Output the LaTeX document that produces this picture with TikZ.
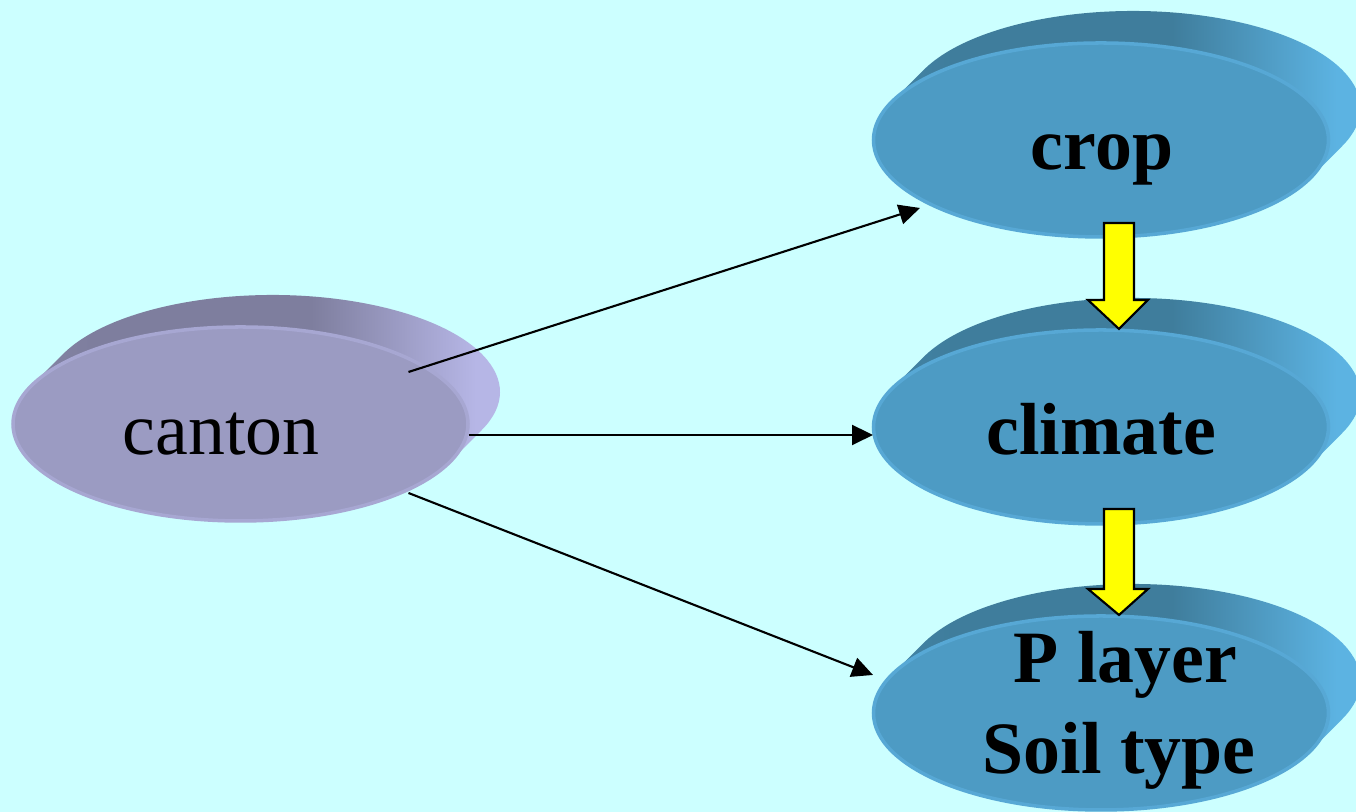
\documentclass[tikz,border=0pt]{standalone}
\usepackage{fontspec}
\setmainfont{Liberation Serif}
\usetikzlibrary{calc,arrows.meta,shapes.geometric}
\definecolor{bgc}{HTML}{CCFFFF}
\definecolor{lavfront}{HTML}{9B9BC2}
\definecolor{lavrim}{HTML}{A7A7D2}
\definecolor{lavmid}{HTML}{8E8EB2}
\definecolor{lavdark}{HTML}{7E7E9E}
\definecolor{lavlight}{HTML}{B6B6E6}
\definecolor{bluefront}{HTML}{4D9BC4}
\definecolor{bluerim}{HTML}{57A8D5}
\definecolor{bluemid}{HTML}{4891B8}
\definecolor{bluedark}{HTML}{3F7D9C}
\definecolor{bluelight}{HTML}{5CB3E2}
\definecolor{arryellow}{HTML}{FFFF00}
\pgfdeclarehorizontalshading{bluehull}{100bp}{color(0bp)=(bluemid); color(20bp)=(bluemid); color(35bp)=(bluedark); color(55bp)=(bluedark); color(70bp)=(bluelight); color(100bp)=(bluelight)}
\pgfdeclarehorizontalshading{lavhull}{100bp}{color(0bp)=(lavmid); color(20bp)=(lavmid); color(35bp)=(lavdark); color(55bp)=(lavdark); color(70bp)=(lavlight); color(100bp)=(lavlight)}
\newcommand\mydiskhull[2]{%
  \shade[shading=#2]
    ($(#1)+(-2.093,0.3805)$) -- ++(0.32,0.32)
    arc[start angle=156.9, end angle=-23.1, x radius=2.275cm, y radius=0.97cm]
    -- ++(-0.32,-0.32)
    arc[start angle=-23.1, end angle=-203.1, x radius=2.275cm, y radius=0.97cm]
    -- cycle;}
\tikzset{
  disk/.style={ellipse, inner sep=0pt, minimum width=4.55cm, minimum height=1.94cm, line width=1pt},
  lavdisk/.style={disk, fill=lavfront, draw=lavrim},
  bluedisk/.style={disk, fill=bluefront, draw=bluerim},
  lbl/.style={font=\fontsize{21}{26}\selectfont, inner sep=0pt, anchor=base},
  blbl/.style={lbl, font=\fontsize{21}{26}\selectfont\bfseries},
  thinarrow/.style={line width=0.6pt, -{Triangle[length=0.21cm, width=0.2cm]}},
  blockarrow/.style={fill=arryellow, draw=black, line width=0.6pt, line join=miter}
}
\begin{document}
\begin{tikzpicture}
\useasboundingbox (0,0) rectangle (13.56,8.12);
\fill[bgc] (0,0) rectangle (13.56,8.12);
% centres
\coordinate (cantonc) at (2.405,3.88);
\coordinate (cropc) at (11.01,6.72);
\coordinate (climatec) at (11.01,3.85);
\coordinate (playerc) at (11.01,0.99);
% disks
\mydiskhull{cantonc}{lavhull}
\node[lavdisk] (canton) at (cantonc) {};
\mydiskhull{cropc}{bluehull}
\node[bluedisk] (crop) at (cropc) {};
\mydiskhull{climatec}{bluehull}
\node[bluedisk] (climate) at (climatec) {};
\mydiskhull{playerc}{bluehull}
\node[bluedisk] (player) at (playerc) {};
% thin connectors
\coordinate (s1) at ($(canton.center)+(1.68,0.52)$);
\coordinate (e1) at ($(crop.center)+(-1.81,-0.68)$);
\coordinate (s2) at ($(canton.center)+(2.28,-0.11)$);
\coordinate (e2) at ($(climate.center)+(-2.28,-0.08)$);
\coordinate (s3) at ($(canton.center)+(1.68,-0.69)$);
\coordinate (e3) at ($(player.center)+(-2.28,0.38)$);
\draw[thinarrow] (s1) -- (e1);
\draw[thinarrow] (s2) -- (e2);
\draw[thinarrow] (s3) -- (e3);
% yellow block arrows
\draw[blockarrow] (11.04,5.89) -- (11.34,5.89) -- (11.34,5.12) -- (11.48,5.12)
  -- (11.19,4.83) -- (10.88,5.12) -- (11.04,5.12) -- cycle;
\draw[blockarrow] (11.04,3.03) -- (11.34,3.03) -- (11.34,2.23) -- (11.48,2.23)
  -- (11.19,1.97) -- (10.88,2.23) -- (11.04,2.23) -- cycle;
% labels
\node[lbl] (cantonlbl) at (2.21,3.57) {canton};
\node[blbl] (croplbl) at (11.02,6.42) {crop};
\node[blbl] (climatelbl) at (11.01,3.57) {climate};
\node[blbl] (playerlbl) at (11.255,1.29) {P layer};
\node[blbl] (soillbl) at (11.19,0.38) {Soil type};
\end{tikzpicture}
\end{document}
